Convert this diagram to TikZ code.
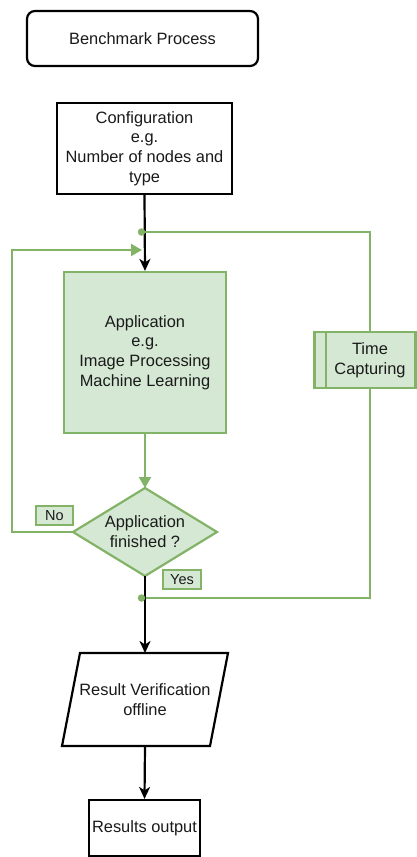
\documentclass[tikz,border=0pt]{standalone}
\usepackage{fontspec}
\setmainfont{Liberation Sans}
\usetikzlibrary{arrows.meta,shapes.geometric,calc}
\definecolor{gstroke}{HTML}{82B366}
\definecolor{gfill}{HTML}{D5E8D4}
\definecolor{txt}{HTML}{1A1A1A}
\begin{document}
\begin{tikzpicture}[x=1pt,y=-1pt,
  every node/.style={font=\fontsize{16.4}{19.8}\selectfont,text=txt,align=center,inner sep=0pt},
  blackbox/.style={draw=black,line width=2.2pt,fill=white},
  greenbox/.style={draw=gstroke,line width=2.2pt,fill=gfill},
  blackline/.style={draw=black,line width=2.2pt},
  greenline/.style={draw=gstroke,line width=2.2pt},
  barr/.style={-{Stealth[length=12pt,width=11pt,inset=3.5pt]}},
  garr/.style={-{Triangle[length=11pt,width=12pt]}},
  gdot/.style={circle,fill=gstroke,minimum size=7.5pt,inner sep=0pt},
  tag/.style={draw=gstroke,line width=2.2pt,fill=gfill,font=\fontsize{14.5}{16}\selectfont,inner sep=0pt}
]
\useasboundingbox (0,0) rectangle (416,857);

% nodes
\node[blackbox,rounded corners=8pt,minimum width=231pt,minimum height=55pt] (title) at (142.5,38.5) {Benchmark Process};
\node[blackbox,minimum width=175pt,minimum height=91pt] (config) at (144.5,148.5) {Configuration\\e.g.\\Number of nodes and\\type};
\node[greenbox,minimum width=162pt,minimum height=161pt] (app) at (145,352.5) {Application\\e.g.\\Image Processing\\Machine Learning};

% decision diamond
\coordinate (decN) at (145,488);
\coordinate (decE) at (217,532);
\coordinate (decS) at (145,576);
\coordinate (decW) at (73,532);
\draw[greenbox,line join=miter] (decN) -- (decE) -- (decS) -- (decW) -- cycle;
\node (dec) at (145,532) {Application\\finished ?};

% time capturing
\node[greenbox,minimum width=101pt,minimum height=56pt] (time) at (365,360) {};
\node (timetext) at (370,360) {Time\\Capturing};
\draw[greenline] (326,332) -- (326,388);

% verification parallelogram
\coordinate (verN) at (145,653);
\coordinate (verS) at (136,746);
\draw[blackline,fill=white,line join=miter] (80,653) -- (228,653) -- (210,746) -- (62,746) -- cycle;
\node (verif) at (145,699.5) {Result Verification\\offline};

\node[blackbox,minimum width=111pt,minimum height=56pt] (out) at (144.5,828) {Results output};

\node[tag,minimum width=37pt,minimum height=19pt] (no) at (54.5,515.5) {No};
\node[tag,minimum width=38pt,minimum height=19pt] (yes) at (182,579.5) {Yes};

\coordinate (dotA) at (144.5,232);
\coordinate (dotB) at (144.5,598);
\coordinate (loopend) at (142,250);
\coordinate (loopc) at (12,250);

% connectors
\draw[blackline,barr] (config.south) -- (app.north);
\draw[greenline,garr] (app.south) -- (decN);
\draw[greenline] (decW) -| (loopc) -- ($(loopc)+(70,0)$);
\draw[greenline,garr] ($(loopc)+(60,0)$) -- (loopend);
\draw[greenline] (dotA) -| ([xshift=5pt]time.north);
\draw[greenline] ([xshift=5pt]time.south) |- (dotB);
\draw[blackline,barr] (decS) -- (decS |- verN);
\draw[blackline,barr] (145,746) -- (out.north);
\node[gdot,xshift=-3pt] at (dotA) {};
\node[gdot,xshift=-3pt] at (dotB) {};
\end{tikzpicture}
\end{document}
